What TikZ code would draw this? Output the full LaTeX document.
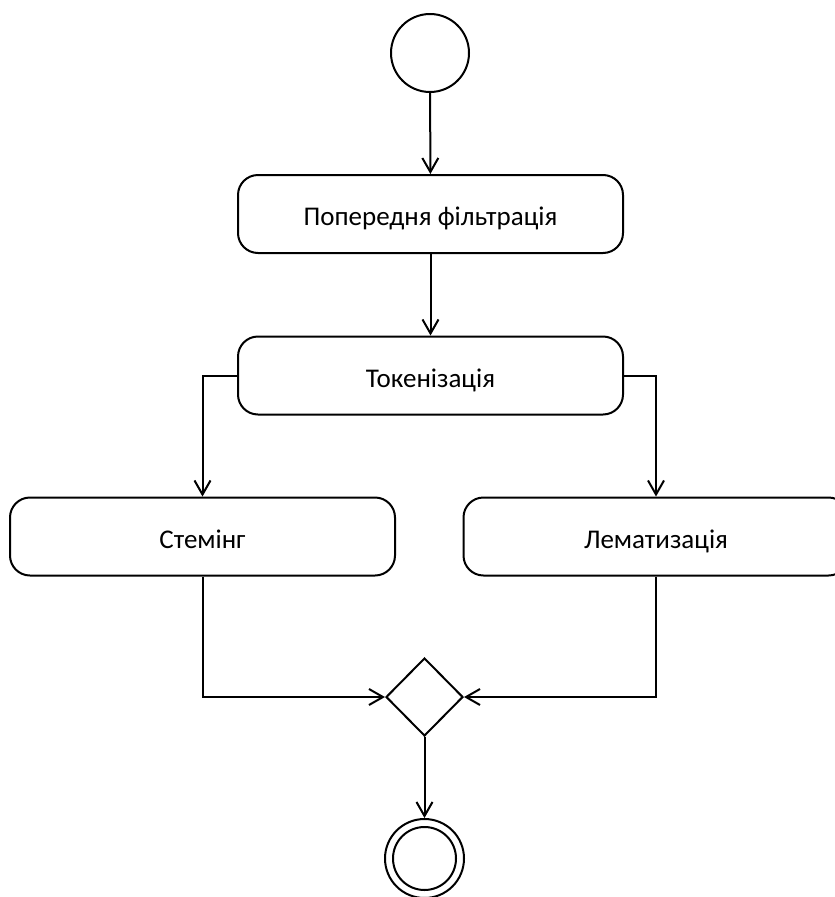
\documentclass[tikz,border=0pt]{standalone}
\usepackage{fontspec}
\setmainfont{Carlito}
\usetikzlibrary{arrows.meta,shapes.geometric}
\begin{document}
\begin{tikzpicture}[x=1pt,y=-1pt,
  line width=2pt,
  every node/.style={font=\fontsize{27}{32}\selectfont},
  action/.style={draw, rounded corners=20pt, minimum width=385pt, minimum height=78pt,
    inner sep=0pt, text height=30pt, text depth=7pt},
  initial/.style={draw, circle, minimum size=78pt, inner sep=0pt},
  merge/.style={draw, diamond, minimum width=77pt, minimum height=78pt, inner sep=0pt},
  flow/.style={-{Straight Barb[length=14pt,width=16pt,line width=2pt]}}]
  \useasboundingbox (0,0) rectangle (835,897);

  \node[initial] (start) at (430,53) {};
  \node[action] (filter) at (430.5,214) {Попередня фільтрація};
  \node[action] (token) at (430.5,375.5) {Токенізація};
  \node[action] (stem) at (202.5,536.5) {Стемінг};
  \node[action] (lemma) at (656,536.5) {Лематизація};
  \node[merge] (join) at (424.5,697) {};
  \node[initial, minimum size=79pt] (final) at (424.5,858.5) {};
  \draw (final.center) circle[radius=31.5pt];

  \draw[flow] (start) -- (filter);
  \draw[flow] (filter) -- (token);
  \draw[flow] (token.west) -| (stem.north);
  \draw[flow] (token.east) -| (lemma.north);
  \draw[flow] (stem.south) |- (join.west);
  \draw[flow] (lemma.south) |- (join.east);
  \draw[flow] (join.south) -- (final.north);
\end{tikzpicture}
\end{document}
